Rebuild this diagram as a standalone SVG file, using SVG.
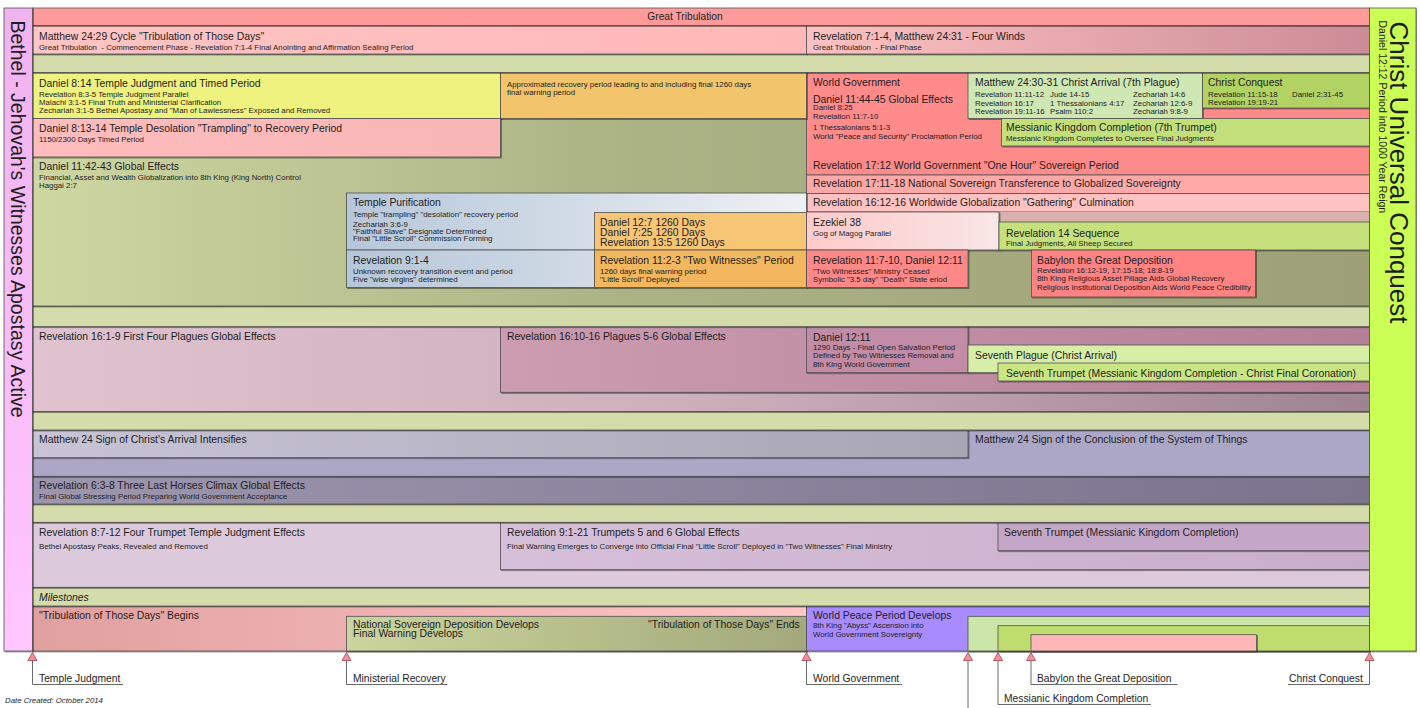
<svg xmlns="http://www.w3.org/2000/svg" width="1420" height="708" viewBox="0 0 1420 708">
<defs>
<filter id="sh" x="-2%" y="-10%" width="104%" height="130%">
<feDropShadow dx="1" dy="1" stdDeviation="0.5" flood-color="#000" flood-opacity="0.45"/>
</filter>
<linearGradient id="gLeft" x1="0" y1="0" x2="0" y2="1"><stop offset="0" stop-color="#f1b3f0"/><stop offset="1" stop-color="#ffc6ff"/></linearGradient>
<linearGradient id="gRow2L" x1="0" y1="0" x2="1" y2="0"><stop offset="0" stop-color="#ffc4c4"/><stop offset="1" stop-color="#ffb8b8"/></linearGradient>
<linearGradient id="gRow2R" x1="0" y1="0" x2="1" y2="0"><stop offset="0" stop-color="#ffc2c2"/><stop offset="1" stop-color="#cb8c97"/></linearGradient>
<linearGradient id="gOlive" x1="0" y1="0" x2="1" y2="0"><stop offset="0" stop-color="#ced6a2"/><stop offset="0.45" stop-color="#abb385"/><stop offset="1" stop-color="#9da077"/></linearGradient>
<linearGradient id="gPink1" x1="0" y1="0" x2="1" y2="0"><stop offset="0" stop-color="#ffbcbc"/><stop offset="1" stop-color="#f8b6b6"/></linearGradient>
<linearGradient id="gEzek" x1="0" y1="0" x2="1" y2="0"><stop offset="0" stop-color="#ffcaca"/><stop offset="1" stop-color="#f8e6e6"/></linearGradient>
<linearGradient id="gTemp" x1="0" y1="0" x2="1" y2="0"><stop offset="0" stop-color="#b7c7da"/><stop offset="1" stop-color="#eef1f4"/></linearGradient>
<linearGradient id="gRev91" x1="0" y1="0" x2="1" y2="0"><stop offset="0" stop-color="#b5c6d8"/><stop offset="1" stop-color="#d2dbe6"/></linearGradient>
<linearGradient id="gPlag" x1="0" y1="0" x2="1" y2="0"><stop offset="0" stop-color="#dfc3ce"/><stop offset="0.5" stop-color="#cdafbc"/><stop offset="1" stop-color="#9e8391"/></linearGradient>
<linearGradient id="gPlag56" x1="0" y1="0" x2="1" y2="0"><stop offset="0" stop-color="#cc9cb0"/><stop offset="1" stop-color="#b47f97"/></linearGradient>
<linearGradient id="gMatt" x1="0" y1="0" x2="1" y2="0"><stop offset="0" stop-color="#c8c4d6"/><stop offset="1" stop-color="#a8a6b5"/></linearGradient>
<linearGradient id="gHorse" x1="0" y1="0" x2="1" y2="0"><stop offset="0" stop-color="#9d96af"/><stop offset="1" stop-color="#7b738d"/></linearGradient>
<linearGradient id="gTrump" x1="0" y1="0" x2="1" y2="0"><stop offset="0" stop-color="#d6bfd8"/><stop offset="1" stop-color="#c8aecb"/></linearGradient>
<linearGradient id="gTribB" x1="0" y1="0" x2="1" y2="0"><stop offset="0" stop-color="#e0a0a0"/><stop offset="1" stop-color="#ffc6c6"/></linearGradient>
<linearGradient id="gNat" x1="0" y1="0" x2="1" y2="0"><stop offset="0" stop-color="#cbd49e"/><stop offset="1" stop-color="#a3a97b"/></linearGradient>
<path id="tri" d="M0,-8 L4.5,0 L-4.5,0 Z"/>
</defs>
<style>
text{font-family:"Liberation Sans",Arial,sans-serif;fill:#1e1e1e}
.t{font-size:10.4px}
.s{font-size:7.85px}
.b{stroke:#505050;stroke-width:0.8;filter:url(#sh)}
.ln{stroke:#6a6a6a;stroke-width:1;fill:none}
.tri{fill:#f0909e;stroke:#a8404e;stroke-width:0.8}
.ml{font-size:10.3px}
</style>
<rect width="1420" height="708" fill="#ffffff"/>

<g id="milestone-row">
<rect class="b" x="32.5" y="606" width="774" height="45" fill="url(#gTribB)"/>
<text class="t" x="39" y="619">"Tribulation of Those Days" Begins</text>
</g>
<g id="national-sovereign-deposition">
<rect class="b" x="346.5" y="616.3" width="460" height="34.7" fill="url(#gNat)"/>
<text class="t" x="353" y="628">National Sovereign Deposition Develops</text>
<text class="t" x="353" y="637.3">Final Warning Develops</text>
<text class="t" x="648" y="628">"Tribulation of Those Days" Ends</text>
</g>
<g id="world-peace-period">
<rect class="b" x="806.5" y="606" width="563" height="45" fill="#a78bff"/>
<text class="t" x="813" y="618.5">World Peace Period Develops</text>
<text class="s" x="813" y="628.3">8th King "Abyss" Ascension into</text>
<text class="s" x="813" y="637.3">World Government Sovereignty</text>
</g>
<g id="christ-arrival-period"><rect class="b" x="968" y="616.3" width="401.5" height="34.7" fill="#cbe6a8"/></g>
<g id="messianic-completion-period"><rect class="b" x="998" y="625.7" width="371.5" height="25.3" fill="#bedd6e"/></g>
<g id="babylon-period"><rect class="b" x="1031" y="634.7" width="225.5" height="16.3" fill="#ffb6b6"/></g>

<g id="milestones-band">
<rect class="b" x="32.5" y="587.3" width="1337" height="18.7" fill="#d5dcab"/>
<text class="t" x="39" y="600.5" font-style="italic">Milestones</text>
</g>

<g id="rev-8-7-12">
<rect class="b" x="32.5" y="522.3" width="1337" height="65" fill="#dccadc"/>
<text class="t" x="39" y="536">Revelation 8:7-12 Four Trumpet Temple Judgment Effects</text>
<text class="s" x="39" y="548.5">Bethel Apostasy Peaks, Revealed and Removed</text>
</g>
<g id="rev-9-1-21">
<rect class="b" x="500.5" y="522.3" width="869" height="47.4" fill="url(#gTrump)"/>
<text class="t" x="507" y="536">Revelation 9:1-21 Trumpets 5 and 6 Global Effects</text>
<text class="s" x="507" y="548.5">Final Warning Emerges to Converge into Official Final "Little Scroll" Deployed in "Two Witnesses" Final Ministry</text>
</g>
<g id="seventh-trumpet-b">
<rect class="b" x="998" y="522.3" width="371.5" height="28.4" fill="#c4a6c8"/>
<text class="t" x="1004" y="536">Seventh Trumpet (Messianic Kingdom Completion)</text>
</g>

<g id="band-4"><rect class="b" x="32.5" y="504" width="1337" height="18.3" fill="#d5dcab"/></g>

<g id="rev-6-3-8">
<rect class="b" x="32.5" y="476.3" width="1337" height="27.7" fill="url(#gHorse)"/>
<text class="t" x="39" y="488.5">Revelation 6:3-8 Three Last Horses Climax Global Effects</text>
<text class="s" x="39" y="498.5">Final Global Stressing Period Preparing World Government Acceptance</text>
</g>

<g id="matthew-24-conclusion">
<rect class="b" x="32.5" y="430" width="1337" height="46.3" fill="#aca6c7"/>
<text class="t" x="975" y="443">Matthew 24 Sign of the Conclusion of the System of Things</text>
</g>
<g id="matthew-24-arrival">
<rect class="b" x="32.5" y="430" width="935.5" height="27.7" fill="url(#gMatt)"/>
<text class="t" x="39" y="443">Matthew 24 Sign of Christ's Arrival Intensifies</text>
</g>

<g id="band-3"><rect class="b" x="32.5" y="411.5" width="1337" height="18.5" fill="#d5dcab"/></g>

<g id="rev-16-1-9">
<rect class="b" x="32.5" y="326.7" width="1337" height="84.8" fill="url(#gPlag)"/>
<text class="t" x="39" y="340">Revelation 16:1-9 First Four Plagues Global Effects</text>
</g>
<g id="rev-16-10-16">
<rect class="b" x="500.5" y="326.7" width="869" height="65.6" fill="url(#gPlag56)"/>
<text class="t" x="507" y="340">Revelation 16:10-16 Plagues 5-6 Global Effects</text>
</g>
<g id="daniel-12-11">
<rect class="b" x="806.5" y="326.7" width="161.5" height="46" fill="#c28ca6"/>
<text class="t" x="813" y="340.5">Daniel 12:11</text>
<text class="s" x="813" y="349.5">1290 Days - Final Open Salvation Period</text>
<text class="s" x="813" y="358">Defined by Two Witnesses Removal and</text>
<text class="s" x="813" y="366.5">8th King World Government</text>
</g>
<g id="seventh-plague">
<rect class="b" x="968" y="345" width="401.5" height="27.7" fill="#d6eea7"/>
<text class="t" x="975" y="359">Seventh Plague (Christ Arrival)</text>
</g>
<g id="seventh-trumpet-a">
<rect class="b" x="998" y="363" width="371.5" height="18" fill="#cae684"/>
<text class="t" x="1006" y="376.5">Seventh Trumpet (Messianic Kingdom Completion - Christ Final Coronation)</text>
</g>

<g id="band-2"><rect class="b" x="32.5" y="306" width="1337" height="20.7" fill="#d5dcab"/></g>

<g id="daniel-11-42-43">
<rect class="b" x="32.5" y="72.5" width="1337" height="233.5" fill="url(#gOlive)"/>
<text class="t" x="39" y="169.5">Daniel 11:42-43 Global Effects</text>
<text class="s" x="39" y="179.5">Financial, Asset and Wealth Globalization into 8th King (King North) Control</text>
<text class="s" x="39" y="188">Haggai 2:7</text>
</g>
<g id="world-government">
<rect class="b" x="806.5" y="72.5" width="563" height="102.5" fill="#ff8b8b"/>
<text class="t" x="813" y="85.5">World Government</text>
<text class="t" x="813" y="102.5">Daniel 11:44-45 Global Effects</text>
<text class="s" x="813" y="110">Daniel 8:25</text>
<text class="s" x="813" y="118.5">Revelation 11:7-10</text>
<text class="s" x="813" y="130">1 Thessalonians 5:1-3</text>
<text class="s" x="813" y="138.5">World "Peace and Security" Proclamation Period</text>
<text class="t" x="813" y="168.5">Revelation 17:12 World Government "One Hour" Sovereign Period</text>
</g>
<g id="daniel-8-14">
<rect class="b" x="32.5" y="72.5" width="468" height="46" fill="#eef27e"/>
<text class="t" x="39" y="86.5">Daniel 8:14 Temple Judgment and Timed Period</text>
<text class="s" x="39" y="96.5">Revelation 8:3-5 Temple Judgment Parallel</text>
<text class="s" x="39" y="104.5">Malachi 3:1-5 Final Truth and Ministerial Clarification</text>
<text class="s" x="39" y="112.5">Zechariah 3:1-5 Bethel Apostasy and "Man of Lawlessness" Exposed and Removed</text>
</g>
<g id="recovery-period">
<rect class="b" x="500.5" y="72.5" width="306" height="46" fill="#f2c46c"/>
<text class="s" x="507" y="86.5">Approximated recovery period leading to and including final 1260 days</text>
<text class="s" x="507" y="95">final warning period</text>
</g>
<g id="daniel-8-13-14">
<rect class="b" x="32.5" y="118.5" width="468" height="38.5" fill="url(#gPink1)"/>
<text class="t" x="39" y="132">Daniel 8:13-14 Temple Desolation "Trampling" to Recovery Period</text>
<text class="s" x="39" y="142">1150/2300 Days Timed Period</text>
</g>
<g id="matthew-24-30-31">
<rect class="b" x="968" y="72.5" width="234.5" height="46" fill="#cfe7b2"/>
<text class="t" x="975" y="85.5">Matthew 24:30-31 Christ Arrival (7th Plague)</text>
<text class="s" x="975" y="97">Revelation 11:11-12</text>
<text class="s" x="975" y="105.5">Revelation 16:17</text>
<text class="s" x="975" y="114">Revelation 19:11-16</text>
<text class="s" x="1050" y="97">Jude 14-15</text>
<text class="s" x="1050" y="105.5">1 Thessalonians 4:17</text>
<text class="s" x="1050" y="114">Psalm 110:2</text>
<text class="s" x="1133" y="97">Zechariah 14:6</text>
<text class="s" x="1133" y="105.5">Zechariah 12:6-9</text>
<text class="s" x="1133" y="114">Zechariah 9:8-9</text>
</g>
<g id="christ-conquest">
<rect class="b" x="1202.5" y="72.5" width="167" height="35.5" fill="#b2d263"/>
<text class="t" x="1208" y="85.5">Christ Conquest</text>
<text class="s" x="1208" y="96.5">Revelation 11:15-18</text>
<text class="s" x="1208" y="105">Revelation 19:19-21</text>
<text class="s" x="1292" y="96.5">Daniel 2:31-45</text>
</g>
<g id="messianic-kingdom-completion">
<rect class="b" x="1001.5" y="118.5" width="368" height="27.5" fill="#c3df7b"/>
<text class="t" x="1006" y="130.5">Messianic Kingdom Completion (7th Trumpet)</text>
<text class="s" x="1006" y="140.5">Messianic Kingdom Completes to Oversee Final Judgments</text>
</g>
<g id="rev-17-11-18">
<rect class="b" x="806.5" y="175" width="563" height="18.5" fill="#ffa9a9"/>
<text class="t" x="813" y="187">Revelation 17:11-18 National Sovereign Transference to Globalized Sovereignty</text>
</g>
<g id="rev-16-12-16">
<rect class="b" x="806.5" y="193.5" width="563" height="18.5" fill="#ffc2c2"/>
<text class="t" x="813" y="206">Revelation 16:12-16 Worldwide Globalization "Gathering" Culmination</text>
</g>
<g id="gathering-tail"><rect x="999" y="212" width="370.5" height="10" fill="#d8b0ae"/></g>
<g id="temple-purification">
<rect class="b" x="346.5" y="193" width="460" height="57" fill="url(#gTemp)"/>
<text class="t" x="353" y="206">Temple Purification</text>
<text class="s" x="353" y="217">Temple "trampling" "desolation" recovery period</text>
<text class="s" x="353" y="226.5">Zechariah 3:6-9</text>
<text class="s" x="353" y="234">"Faithful Slave" Designate Determined</text>
<text class="s" x="353" y="240.5">Final "Little Scroll" Commission Forming</text>
</g>
<g id="daniel-12-7">
<rect class="b" x="594.5" y="212.5" width="212" height="37.5" fill="#f6c575"/>
<text class="t" x="600" y="225.5">Daniel 12:7 1260 Days</text>
<text class="t" x="600" y="235.5">Daniel 7:25 1260 Days</text>
<text class="t" x="600" y="246">Revelation 13:5 1260 Days</text>
</g>
<g id="ezekiel-38">
<rect class="b" x="806.5" y="212" width="192.5" height="38" fill="url(#gEzek)"/>
<text class="t" x="813" y="225.7">Ezekiel 38</text>
<text class="s" x="813" y="236">Gog of Magog Parallel</text>
</g>
<g id="rev-14">
<rect class="b" x="999" y="222" width="370.5" height="28" fill="#c5e07c"/>
<text class="t" x="1006" y="236.5">Revelation 14 Sequence</text>
<text class="s" x="1006" y="246">Final Judgments, All Sheep Secured</text>
</g>
<g id="rev-9-1-4">
<rect class="b" x="346.5" y="250" width="248" height="37.5" fill="url(#gRev91)"/>
<text class="t" x="353" y="263.5">Revelation 9:1-4</text>
<text class="s" x="353" y="273.5">Unknown recovery transition event and period</text>
<text class="s" x="353" y="282">Five "wise virgins" determined</text>
</g>
<g id="rev-11-2-3">
<rect class="b" x="594.5" y="250" width="212" height="37.5" fill="#f2b75f"/>
<text class="t" x="600" y="263.5">Revelation 11:2-3 "Two Witnesses" Period</text>
<text class="s" x="600" y="273.5">1260 days final warning period</text>
<text class="s" x="600" y="282">"Little Scroll" Deployed</text>
</g>
<g id="rev-11-7-10">
<rect class="b" x="806.5" y="250" width="161.5" height="37.5" fill="#ff8989"/>
<text class="t" x="813" y="263.5">Revelation 11:7-10, Daniel 12:11</text>
<text class="s" x="813" y="273.5">"Two Witnesses" Ministry Ceased</text>
<text class="s" x="813" y="282">Symbolic "3.5 day" "Death" State eriod</text>
</g>
<g id="babylon-deposition">
<rect class="b" x="1031.5" y="250" width="224" height="47" fill="#ff8383"/>
<text class="t" x="1037" y="263.5">Babylon the Great Deposition</text>
<text class="s" x="1037" y="273">Revelation 16:12-19, 17:15-18; 18:8-19</text>
<text class="s" x="1037" y="281">8th King Religious Asset Pillage Aids Global Recovery</text>
<text class="s" x="1037" y="289.5">Religious Institutional Deposition Aids World Peace Credibility</text>
</g>

<g id="band-1"><rect class="b" x="32.5" y="54" width="1337" height="18.5" fill="#d5dcab"/></g>

<g id="matthew-24-29">
<rect class="b" x="32.5" y="25.5" width="774" height="28.5" fill="url(#gRow2L)"/>
<text class="t" x="39" y="39.5">Matthew 24:29 Cycle "Tribulation of Those Days"</text>
<text class="s" x="39" y="49.5" xml:space="preserve">Great Tribulation  - Commencement Phase - Revelation 7:1-4 Final Anointing and Affirmation Sealing Period</text>
</g>
<g id="four-winds">
<rect class="b" x="806.5" y="25.5" width="563" height="28.5" fill="url(#gRow2R)"/>
<text class="t" x="813" y="39.5">Revelation 7:1-4, Matthew 24:31 - Four Winds</text>
<text class="s" x="813" y="49.5" xml:space="preserve">Great Tribulation  - Final Phase</text>
</g>

<g id="great-tribulation">
<rect class="b" x="32.5" y="8" width="1337" height="17.5" fill="#ff9b9b"/>
<text x="685" y="20" font-size="10.2" text-anchor="middle">Great Tribulation</text>
</g>

<g id="bethel-apostasy">
<rect class="b" x="4" y="8" width="28.5" height="643" fill="url(#gLeft)"/>
<text transform="translate(10.5,20.5) rotate(90)" font-size="19.5">Bethel - Jehovah's Witnesses Apostasy Active</text>
</g>
<g id="christ-universal-conquest">
<rect class="b" x="1369.5" y="8" width="46.5" height="643" fill="#ccff55"/>
<text transform="translate(1389.5,21.5) rotate(90)" font-size="26">Christ Universal Conquest</text>
<text transform="translate(1378.5,20.5) rotate(90)" font-size="10.5">Daniel 12:12 Period into 1000 Year Reign</text>
</g>

<g id="connectors">
<path class="ln" d="M32.5,660.5 V684.5 H123"/>
<path class="ln" d="M346.5,660.5 V684.5 H447.5"/>
<path class="ln" d="M806.5,660.5 V684.5 H902"/>
<path class="ln" d="M968,660.5 V708"/>
<path class="ln" d="M998,660.5 V704.5 H1151"/>
<path class="ln" d="M1031,660.5 V684.5 H1177.5"/>
<path class="ln" d="M1369.5,660.5 V684.5 H1288"/>
<use href="#tri" class="tri" x="32.5" y="660.5"/>
<use href="#tri" class="tri" x="346.5" y="660.5"/>
<use href="#tri" class="tri" x="806.5" y="660.5"/>
<use href="#tri" class="tri" x="968" y="660.5"/>
<use href="#tri" class="tri" x="998" y="660.5"/>
<use href="#tri" class="tri" x="1031" y="660.5"/>
<use href="#tri" class="tri" x="1369.5" y="660.5"/>
<text class="ml" x="39" y="681.5">Temple Judgment</text>
<text class="ml" x="353" y="681.5">Ministerial Recovery</text>
<text class="ml" x="813" y="681.5">World Government</text>
<text class="ml" x="1004" y="701.5">Messianic Kingdom Completion</text>
<text class="ml" x="1037" y="681.5">Babylon the Great Deposition</text>
<text class="ml" x="1289" y="681.5">Christ Conquest</text>
</g>
<text x="5" y="703" font-size="7.8" font-style="italic">Date Created: October 2014</text>
</svg>
